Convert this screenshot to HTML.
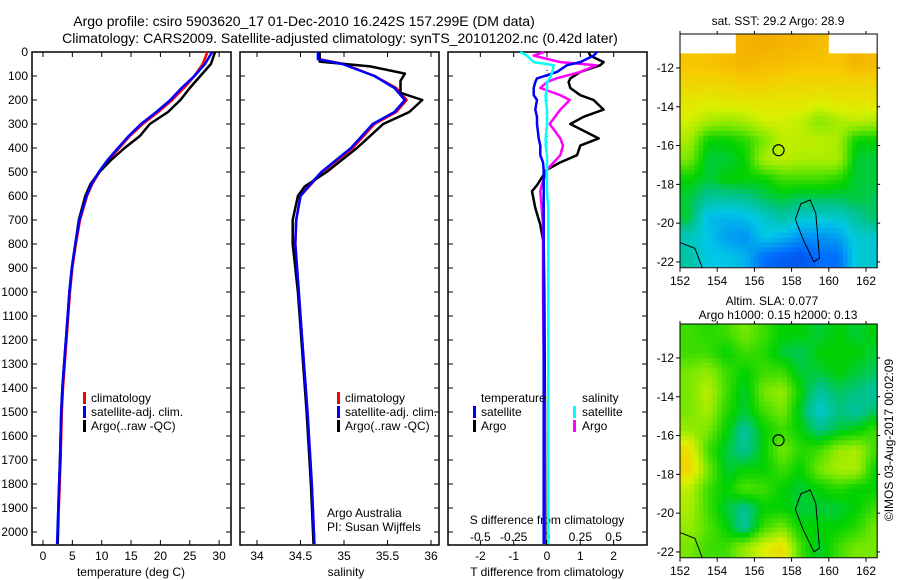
<!DOCTYPE html>
<html><head><meta charset="utf-8"><style>
body{margin:0;background:#fff}
svg{display:block;font-family:"Liberation Sans",sans-serif}
text{font-size:12px;fill:#000}
</style></head><body>
<svg id="c" width="900" height="580" viewBox="0 0 900 580">
<text x="304" y="26" text-anchor="middle" style="font-size:14px">Argo profile: csiro 5903620_17 01-Dec-2010 16.242S 157.299E (DM data)</text>
<text x="340" y="43" text-anchor="middle" style="font-size:14px">Climatology: CARS2009. Satellite-adjusted climatology: synTS_20101202.nc (0.42d later)</text>
<text x="778" y="25" text-anchor="middle">sat. SST: 29.2 Argo: 28.9</text>
<text x="772" y="305" text-anchor="middle">Altim. SLA: 0.077</text>
<text x="778" y="319" text-anchor="middle">Argo h1000: 0.15 h2000: 0.13</text>
<text transform="translate(893,440) rotate(-90)" text-anchor="middle">©IMOS 03-Aug-2017 00:02:09</text>
<g id="g"></g>
</svg>
<script>
// ---- data ----
const depthTC=[0,50,100,150,200,250,300,350,400,450,500,550,600,700,800,900,1000,1100,1200,1300,1400,1500,1700,1900,2050];
const tempClim=[28,27.2,25.8,24,22,19.6,17,14.8,13,11.2,9.6,8.4,7.5,6.3,5.6,5.0,4.6,4.3,4.0,3.7,3.4,3.2,3.0,2.7,2.5];
const tempSat=[28.8,27.6,25.8,23.6,21.7,19.3,16.7,14.6,12.8,11.0,9.5,8.3,7.4,6.2,5.5,4.9,4.5,4.2,3.9,3.6,3.3,3.1,2.9,2.6,2.4];
const tempArgo=[29.3,28.6,26.8,25.0,23.4,21.3,18.2,16.5,13.9,11.6,9.6,8.1,7.2,6.1,5.5,4.9,4.5,4.2,3.9,3.6,3.3,3.1,2.9,2.6,2.5];
const depthS=[0,30,50,100,150,200,250,300,400,500,560,600,700,800,1000,1200,1500,1800,2050];
const salClim=[34.72,34.72,35.0,35.35,35.6,35.72,35.6,35.35,35.1,34.75,34.6,34.5,34.45,34.44,34.48,34.52,34.58,34.63,34.66];
const salSat=[34.7,34.7,34.98,35.35,35.58,35.7,35.58,35.33,35.08,34.74,34.59,34.5,34.45,34.44,34.48,34.52,34.58,34.63,34.66];
const depthSA=[0,40,60,90,120,170,200,250,300,400,500,560,600,700,800,1000,1200,1500,1800,2050];
const salArgo=[34.72,34.72,35.3,35.7,35.65,35.65,35.9,35.75,35.45,35.15,34.8,34.55,34.47,34.41,34.41,34.47,34.51,34.57,34.62,34.65];
const depthD=[0,15,42,55,83,110,125,150,180,200,240,270,300,360,390,430,460,490,555,580,650,720,800,1000,1500,2050];
const tDiffArgo=[1.25,1.3,1.7,1.6,1.0,0.7,0.65,0.7,1.0,1.4,1.7,1.1,0.7,1.55,1.0,0.9,0.4,0.0,-0.3,-0.45,-0.35,-0.2,-0.1,-0.08,-0.06,-0.05];
const tDiffSat=[1.5,1.4,1.0,0.6,0.3,-0.3,-0.35,-0.4,-0.4,-0.3,-0.35,-0.3,-0.3,-0.25,-0.2,-0.2,-0.12,-0.1,-0.1,-0.1,-0.1,-0.1,-0.1,-0.1,-0.1,-0.1];
const sDiffArgo=[-0.02,-0.1,0.1,0.37,0.25,0.07,0.0,-0.05,0.1,0.17,0.1,0.06,0.02,0.1,0.12,0.1,0.05,0.0,-0.04,-0.05,-0.04,-0.03,-0.03,-0.03,-0.02,-0.02];
const sDiffSat=[-0.2,-0.15,-0.1,0.05,0.04,0.02,0.0,0.0,-0.01,-0.01,0.0,0.0,0.0,-0.01,-0.01,0.0,0.0,0.0,0.0,0.0,0.01,0.01,0.01,0.01,0.01,0.01];
const depthTicks=[0,100,200,300,400,500,600,700,800,900,1000,1100,1200,1300,1400,1500,1600,1700,1800,1900,2000];
const tempTicks=[0,5,10,15,20,25,30];
const salTicks=[34,34.5,35,35.5,36];
const tdTicks=[-2,-1,0,1,2];
const sdTicks=[-0.5,-0.25,0,0.25,0.5];
const lonTicks=[152,154,156,158,160,162];
const latTicks=[-12,-14,-16,-18,-20,-22];
const sstGrid=[
[-1,-1,-1,.8,.82,.8,.8,.78,-1,-1,-1],
[.76,.76,.78,.8,.78,.78,.76,.76,.76,.8,.78],
[.72,.72,.72,.74,.74,.72,.72,.72,.72,.72,.72],
[.68,.66,.68,.68,.68,.68,.68,.66,.68,.68,.68],
[.64,.6,.58,.6,.64,.64,.62,.56,.6,.62,.6],
[.6,.45,.45,.48,.55,.62,.62,.62,.6,.45,.45],
[.55,.42,.42,.45,.6,.62,.6,.6,.6,.42,.42],
[.45,.42,.45,.45,.45,.5,.5,.5,.48,.42,.42],
[.42,.35,.35,.36,.4,.42,.4,.4,.4,.42,.4],
[.42,.26,.25,.26,.3,.35,.3,.3,.3,.35,.4],
[.32,.28,.22,.2,.28,.25,.2,.2,.22,.3,.3],
[.35,.28,.28,.25,.15,.12,.1,.15,.15,.3,.3]];
const slaGrid=[
[.5,.48,.5,.55,.5,.45,.45,.42,.45,.42,.45],
[.5,.5,.45,.5,.48,.42,.4,.45,.45,.45,.42],
[.55,.58,.5,.45,.5,.5,.42,.42,.45,.42,.4],
[.55,.62,.5,.42,.55,.58,.45,.35,.4,.38,.35],
[.55,.6,.48,.42,.5,.55,.42,.3,.38,.35,.4],
[.58,.55,.45,.35,.45,.5,.45,.38,.42,.45,.5],
[.7,.5,.42,.36,.45,.55,.48,.5,.58,.6,.5],
[.72,.55,.42,.45,.45,.5,.45,.55,.6,.6,.45],
[.62,.5,.45,.52,.5,.45,.42,.45,.48,.45,.45],
[.6,.5,.42,.36,.45,.45,.42,.42,.42,.45,.5],
[.58,.52,.45,.35,.5,.55,.45,.45,.45,.48,.55],
[.55,.5,.5,.58,.65,.7,.5,.42,.5,.55,.55]];
const argoLon=157.299, argoLat=-16.242;

// ---- drawing ----
const NS='http://www.w3.org/2000/svg';
const G=document.getElementById('g');
function mk(t,a,p){const e=document.createElementNS(NS,t);for(const k in a)e.setAttribute(k,a[k]);(p||G).appendChild(e);return e;}
const pTop=52,pBot=545;
const yD=d=>pTop+d*0.24;
function panel(x0,x1,name){
  const r=mk('rect',{x:x0,y:pTop,width:x1-x0,height:pBot-pTop,fill:'none',stroke:'#000','stroke-width':1.5});
  
  
  depthTicks.forEach(d=>{mk('line',{x1:x0,x2:x0+5,y1:yD(d),y2:yD(d),stroke:'#000'});mk('line',{x1:x1,x2:x1-5,y1:yD(d),y2:yD(d),stroke:'#000'});});
}
function xTicks(ticks,fx,labelY,name,tickTop){
  ticks.forEach(v=>{const x=fx(v);
    mk('line',{x1:x,x2:x,y1:pBot,y2:pBot-5,stroke:'#000'});
    if(tickTop)mk('line',{x1:x,x2:x,y1:pTop,y2:pTop+5,stroke:'#000'});
    const t=mk('text',{x:x,y:labelY,'text-anchor':'middle'});t.textContent=v;
    
    });
}
function line(xs,ds,fx,color,name,w){
  const pts=xs.map((v,i)=>fx(v).toFixed(1)+','+yD(ds[i]).toFixed(1)).join(' ');
  const p=mk('polyline',{points:pts,fill:'none',stroke:color,'stroke-width':w||2.5,'stroke-linejoin':'round'});
  
  
}
function txt(x,y,s,name,anchor){const t=mk('text',{x:x,y:y,'text-anchor':anchor||'start'});t.textContent=s;
  
  return t;}
function legBar(x,y,c){mk('rect',{x:x,y:y-10,width:3,height:12,fill:c});}

// panel 1
const fT=v=>43+v*5.87;
panel(32,231,'temperature-panel');
depthTicks.forEach(d=>txt(28,yD(d)+4,String(d),'depth-tick-label','end'));
xTicks(tempTicks,fT,560,'temperature-tick-label',true);
txt(131,576,'temperature (deg C)','temperature-axis-title','middle');
line(tempClim,depthTC,fT,'#f00','temp-climatology-line');
line(tempArgo,depthTC,fT,'#000','temp-argo-line');
line(tempSat,depthTC,fT,'#00f','temp-satellite-line');
[['#f00','climatology'],['#00f','satellite-adj. clim.'],['#000','Argo(..raw -QC)']].forEach((l,i)=>{legBar(83,402+i*14,l[0]);txt(91,402+i*14,l[1],'temp-legend-entry');});

// panel 2
const fS=v=>257+(v-34)*87;
panel(240,439,'salinity-panel');
xTicks(salTicks,fS,560,'salinity-tick-label',true);
txt(346,576,'salinity','salinity-axis-title','middle');
line(salClim,depthS,fS,'#f00','sal-climatology-line');
line(salArgo,depthSA,fS,'#000','sal-argo-line');
line(salSat,depthS,fS,'#00f','sal-satellite-line');
[['#f00','climatology'],['#00f','satellite-adj. clim.'],['#000','Argo(..raw -QC)']].forEach((l,i)=>{legBar(337,402+i*14,l[0]);txt(345,402+i*14,l[1],'sal-legend-entry');});
txt(327,517,'Argo Australia','argo-australia-label');
txt(327,531,'PI: Susan Wijffels','pi-label');

// panel 3
const fTD=v=>547+v*33.3, fSD=v=>547+v*133.3;
panel(448,647,'difference-panel');
xTicks(tdTicks,fTD,560,'tdiff-tick-label',false);
sdTicks.forEach(v=>{const x=fSD(v);mk('line',{x1:x,x2:x,y1:pTop,y2:pTop+5,stroke:'#000'});});
sdTicks.forEach(v=>{txt(fSD(v),541,String(v),'sdiff-tick-label','middle');});
txt(547,576,'T difference from climatology','tdiff-axis-title','middle');
txt(547,524,'S difference from climatology','sdiff-axis-title','middle');
mk('line',{x1:547,x2:547,y1:pTop,y2:yD(520),stroke:'#000','stroke-dasharray':'1,5'});
line(tDiffArgo,depthD,fTD,'#000','tdiff-argo-line');
line(sDiffArgo,depthD,fSD,'#f0f','sdiff-argo-line');
line(tDiffSat,depthD,fTD,'#00f','tdiff-satellite-line');
line(sDiffSat,depthD,fSD,'#0ff','sdiff-satellite-line');
txt(481,402,'temperature','legend-temperature-header');txt(582,402,'salinity','legend-salinity-header');
legBar(473,416,'#00f');txt(481,416,'satellite','legend-t-satellite');
legBar(473,430,'#000');txt(481,430,'Argo','legend-t-argo');
legBar(573,416,'#0ff');txt(582,416,'satellite','legend-s-satellite');
legBar(573,430,'#f0f');txt(582,430,'Argo','legend-s-argo');

// maps
const stops=[[0,[0,40,200]],[.15,[0,110,255]],[.28,[0,200,230]],[.38,[0,195,130]],[.45,[0,210,0]],[.55,[120,232,0]],[.65,[220,240,0]],[.75,[248,200,0]],[.85,[240,160,0]],[1,[220,90,0]]];
function cmap(v){for(let i=1;i<stops.length;i++){if(v<=stops[i][0]){const a=stops[i-1],b=stops[i],t=(v-a[0])/(b[0]-a[0]);return 'rgb('+a[1].map((c,j)=>Math.round(c+(b[1][j]-c)*t)).join(',')+')';}}return 'rgb(220,90,0)';}
function sample(grid,r,c){
  const R=grid.length,C=grid[0].length;
  const rr=Math.min(Math.max(r,0),R-1), cc=Math.min(Math.max(c,0),C-1);
  const r0=Math.floor(rr), c0=Math.floor(cc), r1=Math.min(r0+1,R-1), c1=Math.min(c0+1,C-1);
  const fr=rr-r0, fc=cc-c0;
  const near=grid[Math.round(rr)][Math.round(cc)];
  if(near<0)return -1;
  const g=(a,b)=>{const v=grid[a][b];return v<0?near:v;};
  return (g(r0,c0)*(1-fc)+g(r0,c1)*fc)*(1-fr)+(g(r1,c0)*(1-fc)+g(r1,c1)*fc)*fr;
}
function drawMap(grid,y0,name){
  const fx=lon=>680+(lon-152)*18.6, fy=lat=>y0+(-10.25-lat)*19.4;
  const g=mk('g',{});
  
  
  const S=4, R=grid.length, C=grid[0].length;
  const x1=fx(162.6), yB=fy(-22.3);
  for(let i=0;i<R*S;i++){for(let j=0;j<C*S;j++){
    const v=sample(grid,(i+0.5)/S-0.5,(j+0.5)/S-0.5);
    const x=fx(152+j/S), y=fy(-10.25-i/S);
    if(x>=x1||y>=yB)continue;
    const w=Math.min(18.6/S,x1-x), h=Math.min(19.4/S,yB-y);
    const cell=mk('rect',{x:x.toFixed(1),y:y.toFixed(1),width:(w+0.5).toFixed(1),height:(h+0.5).toFixed(1),fill:v<0?'#fff':cmap(v)},g);
    
    
  }}
  const fr=mk('rect',{x:680,y:y0,width:x1-680,height:yB-y0,fill:'none',stroke:'#000'});
  
  
  lonTicks.forEach(l=>{const x=fx(l);mk('line',{x1:x,x2:x,y1:yB,y2:yB+4,stroke:'#000'});mk('line',{x1:x,x2:x,y1:y0,y2:y0-3,stroke:'#000'});txt(x,yB+17,String(l),'lon-tick-label','middle');});
  latTicks.forEach(l=>{const y=fy(l);mk('line',{x1:676,x2:680,y1:y,y2:y,stroke:'#000'});mk('line',{x1:x1,x2:x1+3,y1:y,y2:y,stroke:'#000'});txt(674,y+4,String(l),'lat-tick-label','end');});
  mk('path',{d:`M${fx(158.5)},${fy(-19)} L${fx(159)},${fy(-18.8)} L${fx(159.3)},${fy(-19.5)} L${fx(159.5)},${fy(-21.8)} L${fx(159.2)},${fy(-22)} L${fx(158.6)},${fy(-20.8)} L${fx(158.2)},${fy(-19.8)} Z`,fill:'none',stroke:'#000'});
  mk('path',{d:`M${fx(152)},${fy(-21)} L${fx(152.8)},${fy(-21.3)} L${fx(153.2)},${fy(-22.3)}`,fill:'none',stroke:'#000'});
  mk('circle',{cx:fx(argoLon),cy:fy(argoLat),r:5.5,fill:'none',stroke:'#000','stroke-width':1.2});
}
drawMap(sstGrid,34,'sst-map');
drawMap(slaGrid,324,'sla-map');
</script>
</body></html>
